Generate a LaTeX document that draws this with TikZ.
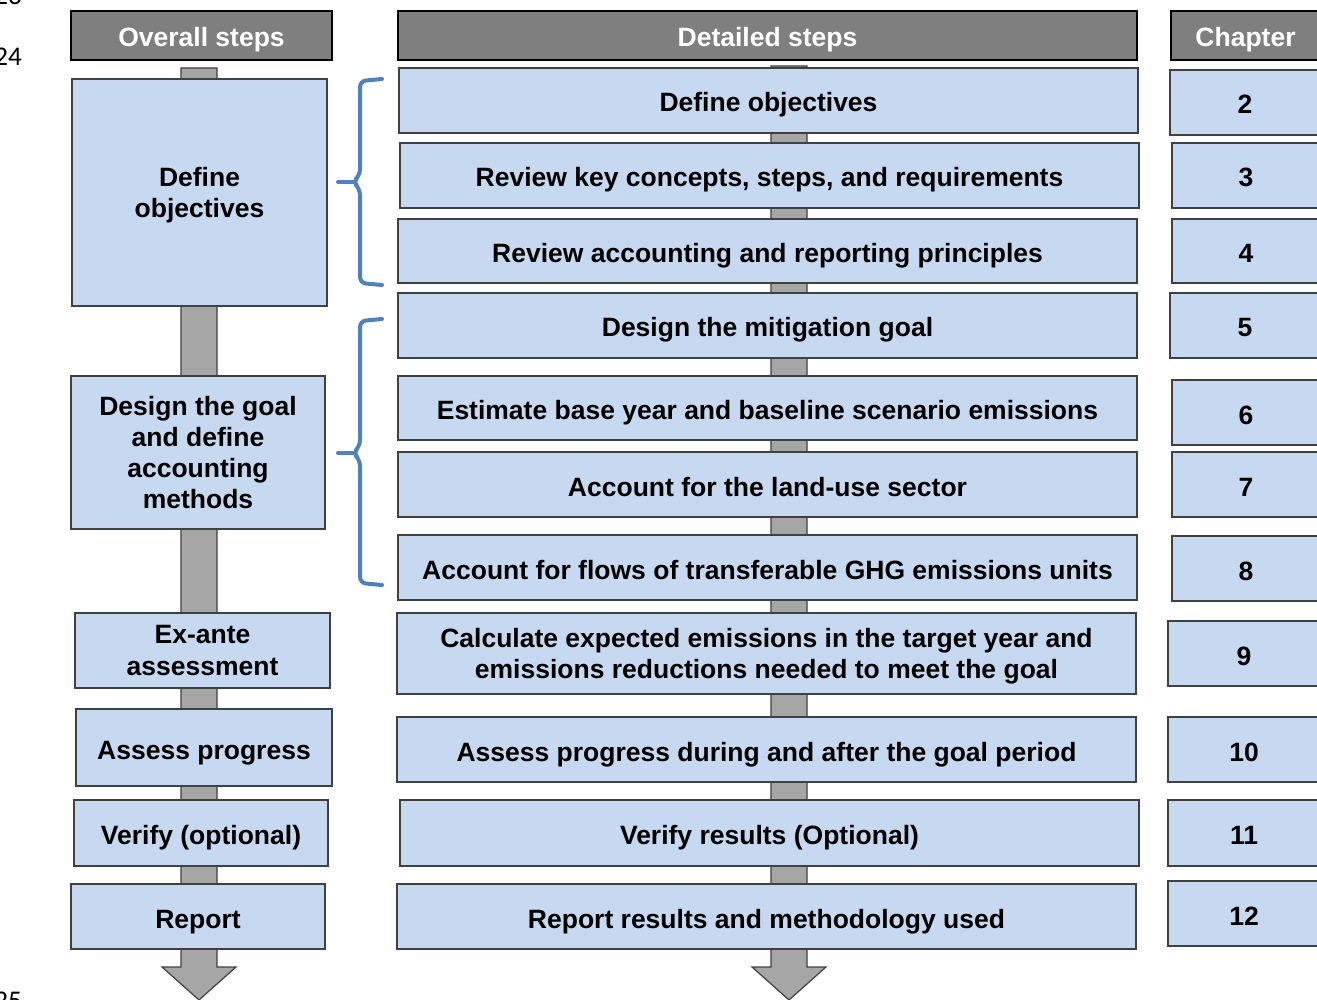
\documentclass[tikz,border=0pt]{standalone}
\usepackage{fontspec}
\setmainfont{Liberation Sans}
\newfontfamily\numfont{Carlito}
\usetikzlibrary{calc, backgrounds}
\definecolor{cbox}{HTML}{C6D9F1}
\definecolor{chead}{HTML}{7F7F7F}
\definecolor{cbar}{HTML}{A6A6A6}
\definecolor{cedge}{HTML}{404040}
\definecolor{cbrace}{HTML}{4F81BD}
\tikzset{
  every picture/.style={x=1pt, y=-1pt, font=\fontsize{26.5}{31.3}\selectfont\bfseries},
  boxat/.style n args={4}{at={({(#1+#3)/2},{(#2+#4)/2})},
    minimum width={(#3-#1)*1pt}, minimum height={(#4-#2)*1pt}},
  stepbox/.style={draw=cedge, fill=cbox, line width=1.2pt, align=center, inner sep=0pt},
  oneline/.style={text height=23pt, text depth=0pt},
  headbox/.style={stepbox, oneline, draw=black, fill=chead, text=white},
  bar/.style={draw=cedge, fill=cbar, line width=1.2pt},
  brace/.style={draw=cbrace, line width=4pt, rounded corners=6pt, line cap=round},
  lineno/.style={font=\numfont\fontsize{27}{30}\selectfont, inner sep=0pt, anchor=base east},
}

\begin{document}
\begin{tikzpicture}
  \useasboundingbox (0,0) rectangle (1317,1000);

  % line numbers in the margin
  \node[lineno] (ln23) at (22,5) {23};
  \node[lineno] (ln24) at (22,66) {24};
  \node[lineno] (ln25) at (22,1009) {25};

  % column heads
  \node[headbox, boxat={71}{11}{332}{60}] (ovhead) {Overall steps};
  \node[headbox, boxat={398}{11}{1137}{60}] (dthead) {Detailed steps};
  \node[headbox, boxat={1171}{11}{1320}{60}] (chhead) {Chapter};

  % overall steps
  \node[stepbox, text depth=0pt, boxat={72}{79}{327}{306}] (ov1) {Define\\objectives};
  \node[stepbox, boxat={71}{376}{325}{529}] (ov2) {Design the goal\\and define\\accounting\\methods};
  \node[stepbox, text depth=0pt, boxat={75}{613}{330}{688}] (ov3) {Ex-ante\\assessment};
  \node[stepbox, oneline, boxat={76}{709}{332}{786}] (ov4) {Assess progress};
  \node[stepbox, oneline, boxat={74}{800}{328}{866}] (ov5) {Verify (optional)};
  \node[stepbox, oneline, boxat={71}{884}{325}{949}] (ov6) {Report};

  % detailed steps
  \foreach \i/\xa/\ya/\yb/\txt in {
      1/399/68/133/{Define objectives},
      2/400/143/208/{Review key concepts, steps, and requirements},
      3/398/219/283/{Review accounting and reporting principles},
      4/398/293/358/{Design the mitigation goal},
      5/398/376/440/{Estimate base year and baseline scenario emissions},
      6/398/452/517/{Account for the land-use sector},
      7/398/535/600/{Account for flows of transferable GHG emissions units},
      9/397/717/782/{Assess progress during and after the goal period},
      10/400/800/866/{Verify results (Optional)},
      11/397/884/949/{Report results and methodology used}}
    \node[stepbox, oneline, boxat={\xa}{\ya}{\xa+739}{\yb}] (dt\i) {\txt};
  \node[stepbox, text depth=0pt, boxat={397}{613}{1136}{694}] (dt8)
    {Calculate expected emissions in the target year and\\emissions reductions needed to meet the goal};

  % chapter numbers
  \foreach \n/\xa/\ya/\yb in {2/1170/70/135, 3/1172/143/208, 4/1172/219/283,
      5/1170/293/358, 6/1172/380/445, 7/1172/452/517, 8/1172/536/601,
      9/1168/621/686, 10/1168/717/782, 11/1168/800/866, 12/1168/881/946}
    \node[stepbox, oneline, boxat={\xa}{\ya}{1320}{\yb}] (ch\n) {\n};

  % grey flow arrows behind both step columns
  \coordinate (ltop) at (199,68);
  \coordinate (ltip) at (199,1000);
  \coordinate (dtop) at (789,66);
  \coordinate (dtip) at (789,1000);
  \begin{scope}[on background layer]
    \foreach \t in {l,d}
      \path[bar] ($(\t top)+(-18,0)$) -- ($(\t tip)+(-18,-33)$) -- ($(\t tip)+(-37,-33)$)
        -- (\t tip) -- ($(\t tip)+(37,-33)$) -- ($(\t tip)+(18,-33)$) -- ($(\t top)+(18,0)$) -- cycle;
  \end{scope}

  % braces grouping the detailed steps
  \foreach \ya/\ym/\yb in {79/182/285, 319/453/585} {
    \draw[brace] (382,\ya) -- (360,\ya+2) -- (360,\ym-7) -- (353,\ym) -- (360,\ym+7)
      -- (360,\yb-2) -- (382,\yb);
    \draw[brace, rounded corners=0pt] (355,\ym) -- (338,\ym);
  }
\end{tikzpicture}
\end{document}
